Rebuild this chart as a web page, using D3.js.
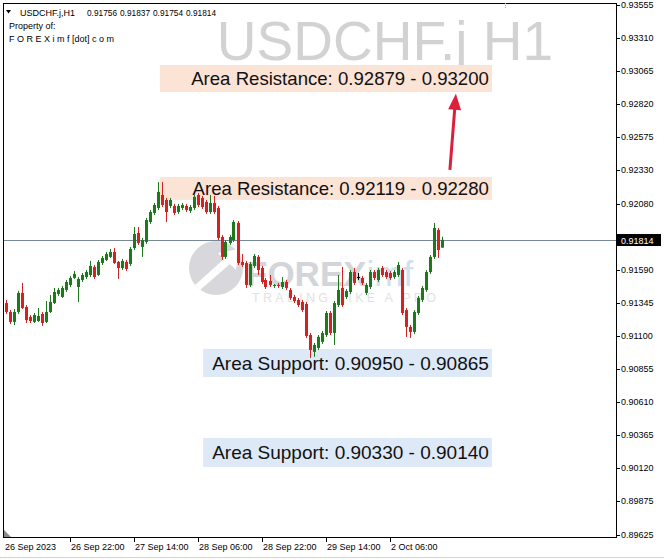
<!DOCTYPE html>
<html><head><meta charset="utf-8">
<script src="https://cdn.jsdelivr.net/npm/d3@7"></script>
<style>html,body{margin:0;padding:0;background:#fff;} svg{display:block;}</style>
</head><body>
<svg id="chart" width="664" height="560"></svg>
<script>
// ---------- DATA ----------
const symbolName = "USDCHF.j";
const timeframe = "H1";
const headerValues = ["0.91756", "0.91837", "0.91754", "0.91814"];
const ownerLines = ["Property of:", "F O R E X i m f [dot] c o m"];

const opens = [
0.91345,0.91279,0.91205,0.91279,0.91420,0.91316,0.91242,0.91205,0.91212,0.91264,
0.91205,0.91279,0.91345,0.91412,0.91390,0.91442,0.91479,0.91531,0.91464,0.91516,
0.91538,0.91553,0.91613,0.91553,0.91642,0.91664,0.91687,0.91724,0.91650,0.91605,
0.91650,0.91635,0.91753,0.91865,0.91761,0.91798,0.91946,0.92013,0.92050,0.92146,
0.92109,0.92065,0.92065,0.92020,0.92050,0.92065,0.92028,0.92050,0.92146,0.92124,
0.92095,0.92020,0.92087,0.92050,0.91835,0.91687,0.91790,0.91812,0.91939,0.91650,
0.91642,0.91479,0.91620,0.91687,0.91605,0.91516,0.91509,0.91472,0.91479,0.91464,
0.91501,0.91442,0.91390,0.91368,0.91353,0.91338,0.91108,0.90983,0.91012,0.91057,
0.91108,0.91271,0.91123,0.91330,0.91457,0.91390,0.91427,0.91575,0.91538,0.91531,
0.91420,0.91464,0.91575,0.91516,0.91605,0.91575,0.91568,0.91538,0.91553,0.91590,
0.91293,0.91168,0.91131,0.91271,0.91368,0.91442,0.91575,0.91687,0.91887,0.91756];
const highs = [
0.91368,0.91293,0.91301,0.91435,0.91494,0.91330,0.91256,0.91271,0.91308,0.91279,
0.91360,0.91405,0.91457,0.91457,0.91472,0.91516,0.91546,0.91583,0.91538,0.91568,
0.91590,0.91657,0.91627,0.91664,0.91694,0.91724,0.91746,0.91753,0.91657,0.91672,
0.91664,0.91761,0.91909,0.91909,0.91828,0.91976,0.92035,0.92087,0.92242,0.92242,
0.92124,0.92124,0.92080,0.92080,0.92087,0.92080,0.92072,0.92146,0.92161,0.92139,
0.92109,0.92146,0.92139,0.92065,0.91850,0.91812,0.91850,0.91961,0.91954,0.91709,
0.91657,0.91650,0.91709,0.91701,0.91620,0.91531,0.91553,0.91486,0.91494,0.91538,
0.91516,0.91457,0.91405,0.91383,0.91368,0.91353,0.91123,0.91049,0.91108,0.91138,
0.91286,0.91286,0.91360,0.91553,0.91613,0.91449,0.91590,0.91605,0.91568,0.91546,
0.91494,0.91590,0.91590,0.91605,0.91620,0.91590,0.91583,0.91590,0.91650,0.91605,
0.91308,0.91182,0.91293,0.91398,0.91472,0.91590,0.91701,0.91939,0.91902,0.91837];
const lows = [
0.91264,0.91190,0.91182,0.91264,0.91301,0.91197,0.91197,0.91197,0.91205,0.91175,
0.91197,0.91271,0.91338,0.91398,0.91383,0.91427,0.91464,0.91524,0.91353,0.91501,
0.91524,0.91538,0.91524,0.91546,0.91627,0.91657,0.91679,0.91635,0.91524,0.91590,
0.91583,0.91620,0.91738,0.91776,0.91687,0.91783,0.91932,0.91998,0.92035,0.92057,
0.91946,0.92050,0.91998,0.92006,0.92035,0.92020,0.92013,0.92035,0.92057,0.92043,
0.92006,0.92006,0.92006,0.91812,0.91664,0.91672,0.91776,0.91798,0.91627,0.91613,
0.91457,0.91464,0.91605,0.91553,0.91486,0.91449,0.91464,0.91457,0.91457,0.91449,
0.91442,0.91368,0.91345,0.91316,0.91279,0.91086,0.90938,0.90946,0.90997,0.91042,
0.91094,0.91108,0.91034,0.91316,0.91316,0.91375,0.91412,0.91479,0.91516,0.91479,
0.91405,0.91449,0.91516,0.91501,0.91538,0.91524,0.91516,0.91524,0.91538,0.91256,
0.91094,0.91086,0.91116,0.91256,0.91353,0.91427,0.91561,0.91672,0.91679,0.91754];
const closes = [
0.91279,0.91205,0.91279,0.91420,0.91308,0.91219,0.91212,0.91256,0.91249,0.91197,
0.91279,0.91353,0.91427,0.91442,0.91457,0.91501,0.91531,0.91561,0.91524,0.91553,
0.91575,0.91620,0.91538,0.91650,0.91679,0.91709,0.91724,0.91642,0.91605,0.91657,
0.91598,0.91746,0.91857,0.91790,0.91812,0.91961,0.92020,0.92072,0.92169,0.92072,
0.92020,0.92109,0.92013,0.92065,0.92072,0.92035,0.92057,0.92132,0.92072,0.92057,
0.92020,0.92087,0.92020,0.91828,0.91687,0.91798,0.91835,0.91946,0.91642,0.91627,
0.91479,0.91635,0.91694,0.91590,0.91501,0.91464,0.91479,0.91479,0.91472,0.91501,
0.91457,0.91383,0.91360,0.91330,0.91293,0.91101,0.90997,0.91034,0.91094,0.91123,
0.91271,0.91123,0.91345,0.91442,0.91330,0.91435,0.91575,0.91494,0.91538,0.91494,
0.91479,0.91575,0.91531,0.91590,0.91553,0.91538,0.91531,0.91575,0.91627,0.91271,
0.91168,0.91131,0.91279,0.91383,0.91457,0.91575,0.91687,0.91902,0.91738,0.91814];

const timeTickBars = [0, 16, 32, 48, 64, 80, 96];
const timeTickLabels = ["26 Sep 2023", "26 Sep 22:00", "27 Sep 14:00", "28 Sep 06:00", "28 Sep 22:00", "29 Sep 14:00", "2 Oct 06:00"];

const priceTickLabels = ["0.93555","0.93310","0.93065","0.92820","0.92575","0.92330","0.92080",
  "0.91590","0.91345","0.91100","0.90855","0.90610","0.90365","0.90120","0.89875","0.89625"];
const priceMin = 0.89625, priceMax = 0.93555;
const lastPrice = 0.91814;

const zoneLabels = ["Area Resistance: 0.92879 - 0.93200", "Area Resistance: 0.92119 - 0.92280",
  "Area Support: 0.90950 - 0.90865", "Area Support: 0.90330 - 0.90140"];
const zoneKinds = ["resistance", "resistance", "support", "support"];
const zoneTop = [0.93110, 0.92280, 0.91005, 0.90344];
const zoneBottom = [0.92910, 0.92110, 0.90797, 0.90129];
const zoneStartBar = [38.6, 38.6, 49.4, 49.4];
const zoneEndBar = [121.6, 121.6, 121.6, 121.6];

const arrowBars = [111.1, 112.6];
const arrowPrices = [0.92332, 0.92896];

// ---------- DRAW ----------
const W = 664, H = 560;
const FONT = "'Liberation Sans', Arial, sans-serif";
const svg = d3.select("#chart");
svg.append("rect").attr("width", W).attr("height", H).attr("fill", "#fff");

const x = d3.scaleLinear().domain([0, opens.length - 1]).range([5.5, 441.5]);
const y = d3.scaleLinear().domain([priceMin, priceMax]).range([535, 5]);

const colors = { up: "#1c7a1c", down: "#d32222", resistance: "#fbe3d6", support: "#dde9f6", arrow: "#dc1f3c" };

svg.append("defs").append("clipPath").attr("id", "clip")
  .append("rect").attr("x", 4).attr("y", 4).attr("width", 612).attr("height", 533);
const g = svg.append("g").attr("clip-path", "url(#clip)");

// Symbol watermark
g.append("text").attr("x", 553).attr("y", 60).attr("text-anchor", "end")
  .attr("font-family", FONT).attr("font-size", 55).attr("fill", "#d2d2d2")
  .text(symbolName + " " + timeframe);

// Logo watermark
const logo = g.append("g");
logo.append("circle").attr("cx", 216).attr("cy", 268).attr("r", 27).attr("fill", "#d8d8dc");
logo.append("path").attr("d", "M195,285 L224,259 L218,253 L239,249 L236,270 L230,264 L200,290 Z").attr("fill", "#fff");
const logoText = logo.append("text").attr("x", 246).attr("y", 286)
  .attr("font-family", FONT).attr("font-weight", "bold").attr("font-size", 35);
logoText.append("tspan").attr("fill", "#d4d5da").text("FOREX");
logoText.append("tspan").attr("fill", "#cfe0f1").attr("font-weight", "normal").text("imf");
logo.append("text").attr("x", 252).attr("y", 302).attr("font-family", FONT)
  .attr("font-size", 12.5).attr("letter-spacing", 3.3).attr("fill", "#e2e2e4").text("TRADING LIKE A PRO");

// Zone boxes
const zones = zoneLabels.map((t, k) => ({ label: t, kind: zoneKinds[k], top: zoneTop[k], bottom: zoneBottom[k], s: zoneStartBar[k], e: zoneEndBar[k] }));
g.selectAll("rect.zone").data(zones).join("rect").attr("class", "zone")
  .attr("x", d => x(d.s)).attr("width", d => x(d.e) - x(d.s))
  .attr("y", d => y(d.top)).attr("height", d => y(d.bottom) - y(d.top))
  .attr("fill", d => colors[d.kind]);

// Last price line
const yl = Math.round(y(lastPrice)) + 0.5;
g.append("line").attr("x1", 4).attr("x2", 616).attr("y1", yl).attr("y2", yl)
  .attr("stroke", "#778899").attr("stroke-width", 1);

// Candles
const bars = opens.map((o, i) => ({ i, o, h: highs[i], l: lows[i], c: closes[i] }));
const candle = g.selectAll("g.candle").data(bars).join("g").attr("class", "candle");
const col = d => d.c > d.o ? colors.up : (d.c < d.o ? colors.down : "#000");
candle.append("line")
  .attr("x1", d => Math.round(x(d.i)) + 0.5).attr("x2", d => Math.round(x(d.i)) + 0.5)
  .attr("y1", d => y(d.h)).attr("y2", d => y(d.l)).attr("stroke", col).attr("stroke-width", 1);
candle.append("rect")
  .attr("x", d => Math.round(x(d.i)) - 1).attr("width", 3)
  .attr("y", d => y(Math.max(d.o, d.c)))
  .attr("height", d => Math.max(1, y(Math.min(d.o, d.c)) - y(Math.max(d.o, d.c))))
  .attr("fill", col);

// Zone labels
g.selectAll("text.zone").data(zones).join("text").attr("class", "zone")
  .attr("x", d => x(d.e) - 3).attr("y", d => (y(d.top) + y(d.bottom)) / 2)
  .attr("dy", "0.36em").attr("text-anchor", "end")
  .attr("font-family", FONT).attr("font-size", d => d.kind === "support" ? 19 : 18.6)
  .attr("fill", "#111").text(d => d.label);

// Arrow
const ax1 = x(arrowBars[0]), ay1 = y(arrowPrices[0]), ax2 = x(arrowBars[1]), ay2 = y(arrowPrices[1]);
const len = Math.hypot(ax2 - ax1, ay2 - ay1), ux = (ax2 - ax1) / len, uy = (ay2 - ay1) / len;
const hl = 16, hw = 6.5;
const bx = ax2 - ux * hl, by = ay2 - uy * hl;
g.append("line").attr("x1", ax1).attr("y1", ay1).attr("x2", bx + ux * 2).attr("y2", by + uy * 2)
  .attr("stroke", colors.arrow).attr("stroke-width", 3);
g.append("path").attr("d", `M${ax2},${ay2} L${bx - uy * hw},${by + ux * hw} L${bx + uy * hw},${by - ux * hw} Z`)
  .attr("fill", colors.arrow);

// Header text
const header = svg.append("g").attr("font-family", FONT).attr("font-size", 9).attr("fill", "#000");
header.append("path").attr("d", "M6,10 L11,10 L8.5,13.5 Z").attr("fill", "#000");
header.append("text").attr("x", 20).attr("y", 16).text(symbolName + "," + timeframe);
header.selectAll("text.val").data(headerValues).join("text").attr("class", "val")
  .attr("x", (d, k) => 87 + k * 33).attr("y", 16).attr("font-size", 8.3).text(d => d);
header.selectAll("text.own").data(ownerLines).join("text").attr("class", "own")
  .attr("x", 9).attr("y", (d, k) => 29 + k * 13).text(d => d);

// Frame
svg.append("rect").attr("x", 3.5).attr("y", 3.5).attr("width", 613).attr("height", 534)
  .attr("fill", "none").attr("stroke", "#000").attr("stroke-width", 1);

// Right price axis
const pticks = priceTickLabels.map(s => +s);
const yAxis = svg.append("g").attr("font-family", FONT).attr("font-size", 9);
yAxis.selectAll("line").data(pticks).join("line")
  .attr("x1", 617).attr("x2", 620).attr("y1", d => Math.round(y(d)) + 0.5).attr("y2", d => Math.round(y(d)) + 0.5)
  .attr("stroke", "#000");
yAxis.selectAll("text").data(priceTickLabels).join("text")
  .attr("x", 621).attr("y", d => y(+d)).attr("dy", "0.35em").attr("fill", "#000").text(d => d);
svg.append("rect").attr("x", 617).attr("y", yl - 6.5).attr("width", 44).attr("height", 12).attr("fill", "#000");
svg.append("text").attr("x", 621).attr("y", yl).attr("dy", "0.35em").attr("font-family", FONT)
  .attr("font-size", 9).attr("fill", "#fff").text(lastPrice.toFixed(5));

// Bottom time axis
const xAxis = svg.append("g").attr("font-family", FONT).attr("font-size", 9);
xAxis.selectAll("line").data(timeTickBars.slice(1)).join("line")
  .attr("x1", d => Math.round(x(d)) + 0.5).attr("x2", d => Math.round(x(d)) + 0.5)
  .attr("y1", 538).attr("y2", 542).attr("stroke", "#000");
xAxis.selectAll("text").data(timeTickBars).join("text")
  .attr("x", (d, k) => k === 0 ? 5 : Math.round(x(d)) + 1).attr("y", 550).attr("fill", "#000")
  .text((d, k) => timeTickLabels[k]);

// small UI marks
svg.append("path").attr("d", "M4,530 L4,537 L11,537 Z").attr("fill", "#8a8a8a");
svg.append("line").attr("x1", 0).attr("x2", 664).attr("y1", 557.5).attr("y2", 557.5).attr("stroke", "#d4d4d4");
svg.append("line").attr("x1", 505.5).attr("x2", 505.5).attr("y1", 3).attr("y2", 9).attr("stroke", "#aaa").attr("stroke-dasharray", "1,1");
</script>
</body></html>
